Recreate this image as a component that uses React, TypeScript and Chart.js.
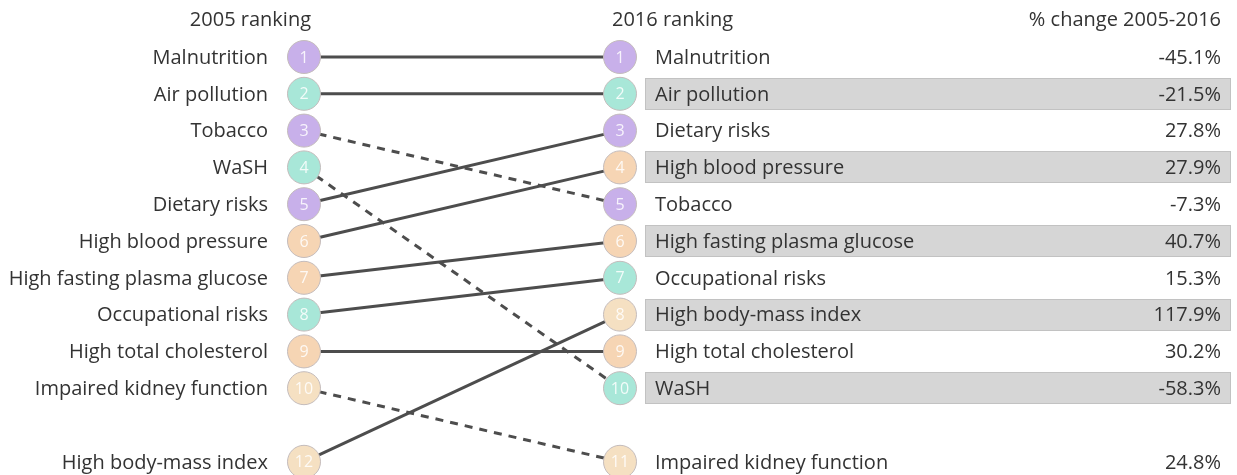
import React, { useEffect, useRef } from "react";
import { Chart, registerables } from "chart.js";

Chart.register(...registerables);

const risks = [
  "Malnutrition",
  "Air pollution",
  "Tobacco",
  "WaSH",
  "Dietary risks",
  "High blood pressure",
  "High fasting plasma glucose",
  "Occupational risks",
  "High total cholesterol",
  "Impaired kidney function",
  "High body-mass index",
];
const rank2005 = [1, 2, 3, 4, 5, 6, 7, 8, 9, 10, 12];
const rank2016 = [1, 2, 5, 10, 3, 4, 6, 7, 9, 11, 8];
// vertical slot used for drawing (rank 11 in 2016 sits in the bottom row)
const slot2005 = [1, 2, 3, 4, 5, 6, 7, 8, 9, 10, 12];
const slot2016 = [1, 2, 5, 10, 3, 4, 6, 7, 9, 12, 8];
const pctChange = ["-45.1%", "-21.5%", "-7.3%", "-58.3%", "27.8%", "27.9%", "40.7%", "15.3%", "30.2%", "24.8%", "117.9%"];
const group = ["p", "t", "p", "t", "p", "o", "o", "t", "o", "l", "l"];
const headers = ["2005 ranking", "2016 ranking", "% change 2005-2016"];

const groupColors: Record<string, string> = {
  p: "#c8b0ea",
  t: "#a8e7d8",
  o: "#f6d5b4",
  l: "#f5e0c2",
};

const FONT = "'Open Sans', 'Noto Sans', sans-serif";

export default function App() {
  const ref = useRef<HTMLCanvasElement>(null);
  useEffect(() => {
    const canvas = ref.current;
    if (!canvas) return;

    const overlay = {
      id: "overlay",
      beforeDatasetsDraw(chart: any) {
        const ctx = chart.ctx;
        const xs = chart.scales.x;
        const ys = chart.scales.y;
        const xR = xs.getPixelForValue(1);
        ctx.save();
        risks.forEach((_, i) => {
          if (rank2016[i] % 2 === 0) {
            const y = Math.round(ys.getPixelForValue(slot2016[i]));
            ctx.fillStyle = "#d6d6d6";
            ctx.strokeStyle = "#c2c2c2";
            ctx.lineWidth = 1;
            ctx.fillRect(xR + 25.5, y - 15.5, 585, 31);
            ctx.strokeRect(xR + 25.5, y - 15.5, 585, 31);
          }
        });
        ctx.restore();
      },
      afterDatasetsDraw(chart: any) {
        const ctx = chart.ctx;
        const xs = chart.scales.x;
        const ys = chart.scales.y;
        const xL = xs.getPixelForValue(0);
        const xR = xs.getPixelForValue(1);
        ctx.save();
        ctx.font = `20px ${FONT}`;
        ctx.fillStyle = "#333333";
        ctx.textBaseline = "middle";
        const hy = ys.getPixelForValue(0);
        ctx.textAlign = "right";
        ctx.fillText(headers[0], xL + 7, hy);
        ctx.textAlign = "left";
        ctx.fillText(headers[1], xR - 8, hy);
        ctx.textAlign = "right";
        ctx.fillText(headers[2], xR + 601, hy);

        risks.forEach((name, i) => {
          const yl = ys.getPixelForValue(slot2005[i]);
          const yr = ys.getPixelForValue(slot2016[i]);
          ctx.font = `20px ${FONT}`;
          ctx.fillStyle = "#333333";
          ctx.textAlign = "right";
          ctx.fillText(name, xL - 36, yl + 1);
          ctx.textAlign = "left";
          ctx.fillText(name, xR + 35, yr + 1);
          ctx.textAlign = "right";
          ctx.fillText(pctChange[i], xR + 601, yr + 1);
          ctx.font = `16px ${FONT}`;
          ctx.fillStyle = "rgba(255,255,255,0.85)";
          ctx.textAlign = "center";
          ctx.fillText(String(rank2005[i]), xL, yl + 1);
          ctx.fillText(String(rank2016[i]), xR, yr + 1);
        });
        ctx.restore();
      },
    };

    const lineSets = risks.map((name, i) => ({
      type: "line" as const,
      label: name,
      data: [
        { x: 0, y: slot2005[i] },
        { x: 1, y: slot2016[i] },
      ],
      borderColor: "#4d4d4d",
      borderWidth: 3,
      borderDash: rank2016[i] > rank2005[i] ? [8, 7] : [],
      pointRadius: 0,
      order: 2,
    }));

    const circleSet = {
      type: "scatter" as const,
      label: "circles",
      data: [
        ...risks.map((_, i) => ({ x: 0, y: slot2005[i] })),
        ...risks.map((_, i) => ({ x: 1, y: slot2016[i] })),
      ],
      backgroundColor: [...group, ...group].map((g) => groupColors[g]),
      borderColor: "#c4bcbc",
      borderWidth: 1,
      pointRadius: 16.5,
      order: 0,
    };

    const W = 1237;
    const H = 475;
    const pxPerX = 316;
    const xMin = -304 / pxPerX;
    const pxPerY = 36.8;
    const yMin = 1 - 57 / pxPerY;

    const chart = new Chart(canvas, {
      type: "scatter",
      data: { datasets: [...lineSets, circleSet] as any },
      options: {
        animation: false,
        responsive: false,
        layout: { padding: 0, autoPadding: false },
        plugins: { legend: { display: false }, tooltip: { enabled: false } },
        scales: {
          x: { type: "linear", display: false, min: xMin, max: xMin + W / pxPerX },
          y: { type: "linear", display: false, reverse: true, min: yMin, max: yMin + H / pxPerY },
        },
      },
      plugins: [overlay],
    });
    return () => chart.destroy();
  }, []);

  return (
    <div style={{ position: "fixed", left: 0, top: 0, width: 1237, height: 475, background: "#fff" }}>
      <canvas ref={ref} width={1237} height={475} style={{ width: 1237, height: 475 }} />
    </div>
  );
}
